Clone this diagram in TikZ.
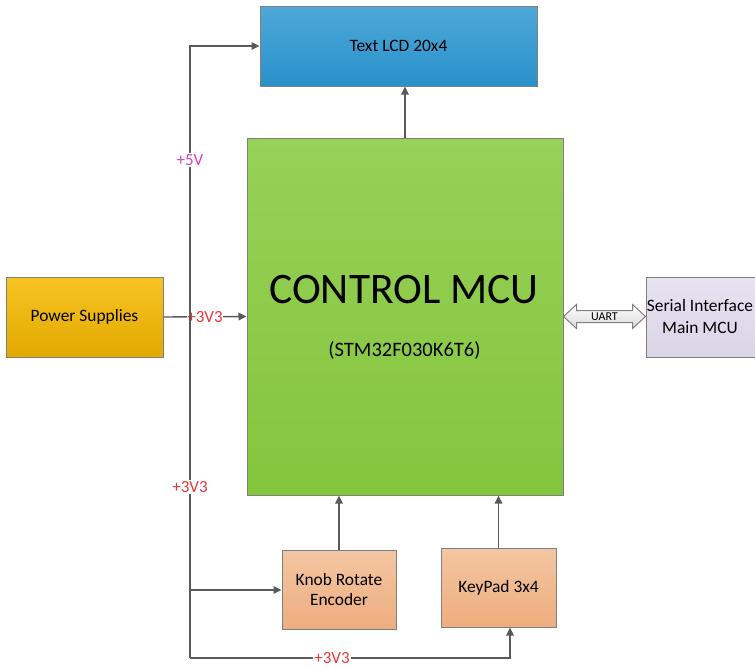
\documentclass[tikz,border=0pt]{standalone}
\usepackage{fontspec}
\setmainfont{Carlito}
\usetikzlibrary{arrows.meta,calc}

\definecolor{edge}{HTML}{7F7F7F}
\definecolor{wire}{HTML}{595959}
\definecolor{lcdtop}{HTML}{4FA8D9}
\definecolor{lcdbot}{HTML}{2891C9}
\definecolor{mcutop}{HTML}{97D158}
\definecolor{mcubot}{HTML}{84C53D}
\definecolor{pstop}{HTML}{F8C423}
\definecolor{psbot}{HTML}{E1A901}
\definecolor{sertop}{HTML}{E7E3F1}
\definecolor{serbot}{HTML}{DAD4E8}
\definecolor{peachtop}{HTML}{F3C6A2}
\definecolor{peachbot}{HTML}{EEAD7E}
\definecolor{vfive}{HTML}{CC44C4}
\definecolor{vthree}{HTML}{E8383D}

\tikzset{
  block/.style={draw=edge, line width=1pt, rectangle, align=center,
    font=\fontsize{17.4}{20}\selectfont, inner sep=2pt},
  wireline/.style={draw=wire, line width=1.4pt},
  arr/.style={wireline, -{Triangle[length=8pt,width=7.5pt]}},
  rail/.style={fill=white, inner sep=1pt, font=\fontsize{17}{19}\selectfont}
}

\begin{document}
\begin{tikzpicture}[x=1pt,y=-1pt]
\useasboundingbox (0,0) rectangle (755,667);

% blocks
\node[block, minimum width=277pt, minimum height=80pt,
  top color=lcdtop, bottom color=lcdbot] (lcd) at (398.5,46) {Text LCD 20x4};
\node[block, minimum width=316pt, minimum height=357pt,
  top color=mcutop, bottom color=mcubot] (mcu) at (405,316.5) {};
\node[font=\fontsize{43.5}{48}\selectfont] (mcutitle) at (404,290) {CONTROL MCU};
\node[font=\fontsize{20.5}{24}\selectfont] (mcupart) at (404.5,350) {(STM32F030K6T6)};
\node[block, minimum width=157pt, minimum height=80pt,
  top color=pstop, bottom color=psbot] (ps) at (84.5,317) {Power Supplies};
\node[block, minimum width=112pt, minimum height=80pt,
  top color=sertop, bottom color=serbot] (ser) at (702,317) {};
\node[align=center, font=\fontsize{17.4}{22}\selectfont] (sertext) at (700,317)
  {Serial Interface\\Main MCU};
\node[block, minimum width=114pt, minimum height=79pt,
  top color=peachtop, bottom color=peachbot] (knob) at (339,590)
  {Knob Rotate\\Encoder};
\node[block, minimum width=115pt, minimum height=79pt,
  top color=peachtop, bottom color=peachbot] (kp) at (498.5,587.5) {KeyPad 3x4};

% supply rail
\coordinate (railtop) at (190,46);
\coordinate (railknob) at (190,590);
\coordinate (railbot) at (190,658);

\draw[arr] (ps.east) -- (mcu.west)
  node[pos=0.5, rail, text=vthree, fill=white, inner sep=0.5pt] (v33a) {+3V3};
\draw[arr] (railbot) -- (railtop) -- (lcd.west);
\draw[arr] (railknob) -- (knob.west);
\draw[arr] (railbot) -| ([xshift=11.5pt]kp.south);

\node[rail, text=vfive] (v5) at (190,160) {+5V};
\node[rail, text=vthree] (v33b) at (190,487) {+3V3};
\node[rail, text=vthree] (v33c) at (332,658) {+3V3};

% signal connections
\draw[arr] (mcu.north) -- (mcu.north |- lcd.south);
\draw[arr] (knob.north) -- (knob.north |- mcu.south);
\draw[arr] (kp.north) -- (kp.north |- mcu.south);

% UART double arrow
\coordinate (ua) at (mcu.east);
\coordinate (ub) at (ser.west |- ua);
\draw[draw=edge, line width=1pt, top color=white, bottom color=black!15]
  (ua) -- ++(13,-12) -- ++(0,6) -- ($(ub)+(-13,-6)$) -- ++(0,-6)
  -- (ub) -- ++(-13,12) -- ++(0,-6) -- ($(ua)+(13,6)$) -- ++(0,6) -- cycle;
\node[font=\fontsize{12}{14}\selectfont, inner sep=0pt] (uart) at ($(ua)!0.5!(ub)+(0,0.5)$) {UART};
\end{tikzpicture}
\end{document}
